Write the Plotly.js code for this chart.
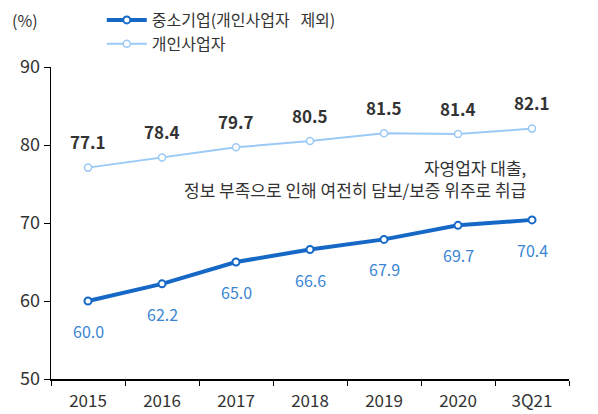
<!DOCTYPE html>
<html><head><meta charset="utf-8">
<script src="https://cdn.plot.ly/plotly-3.0.1.min.js"></script>
<style>body{margin:0;background:#fff}#c{width:598px;height:414px}</style>
</head><body><div id="c"></div>
<script>
const categories = ['2015','2016','2017','2018','2019','2020','3Q21'];
const smeValues = [60.0, 62.2, 65.0, 66.6, 67.9, 69.7, 70.4];
const soleValues = [77.1, 78.4, 79.7, 80.5, 81.5, 81.4, 82.1];
const smeName = '중소기업(개인사업자   제외)';
const soleName = '개인사업자';
const yTicks = [50, 60, 70, 80, 90];

const font = "'Noto Sans CJK KR', 'Noto Sans', sans-serif";
const darkBlue = '#1668c6';
const lightBlue = '#9ccaf6';

const traces = [
  {x: categories, y: smeValues, name: smeName, type: 'scatter', mode: 'lines+markers',
   line: {color: darkBlue, width: 4}, marker: {symbol: 'circle', size: 7, color: '#fff', line: {color: darkBlue, width: 2}}},
  {x: categories, y: soleValues, name: soleName, type: 'scatter', mode: 'lines+markers',
   line: {color: lightBlue, width: 2}, marker: {symbol: 'circle', size: 7, color: '#fff', line: {color: lightBlue, width: 1.5}}}
];

const annotations = [];
categories.forEach((c, i) => {
  annotations.push({x: i, y: soleValues[i], text: soleValues[i].toFixed(1), showarrow: false, yshift: 26,
    font: {family: font, size: 17, color: '#333', weight: 600}});
  annotations.push({x: i, y: smeValues[i], text: smeValues[i].toFixed(1), showarrow: false, yshift: -30,
    font: {family: font, size: 16, color: '#3b86d4'}});
});
annotations.push({xref: 'paper', yref: 'paper', x: -0.08, y: 1.15, xanchor: 'left', yanchor: 'middle',
  text: '(%)', showarrow: false, font: {family: font, size: 16, color: '#333'}});
annotations.push({xref: 'paper', yref: 'paper', x: 0.92, y: 0.644, xanchor: 'right', yanchor: 'middle', align: 'right',
  text: '자영업자 대출,<br>정보 부족으로 인해 여전히 담보/보증 위주로 취급', showarrow: false,
  font: {family: font, size: 17, color: '#333'}});

const layout = {
  width: 598, height: 414,
  margin: {l: 51, r: 29, t: 67, b: 35, autoexpand: false},
  paper_bgcolor: '#fff', plot_bgcolor: '#fff',
  font: {family: font, size: 16, color: '#333'},
  showlegend: true,
  legend: {x: 0.098, y: 1.205, xanchor: 'left', yanchor: 'top', bgcolor: 'rgba(0,0,0,0)',
    font: {family: font, size: 16, color: '#333'}, itemwidth: 40},
  xaxis: {type: 'category', range: [-0.5, 6.5], showgrid: false, zeroline: false,
    showline: true, linecolor: '#000', linewidth: 1.5, ticks: 'outside', ticklen: 5, tickcolor: '#000',
    tickson: 'boundaries', tickangle: 0, ticklabelstandoff: 6, tickfont: {family: font, size: 17, color: '#333'}, fixedrange: true},
  yaxis: {range: [50, 90], tickvals: yTicks, showgrid: false, zeroline: false,
    showline: true, linecolor: '#000', linewidth: 1.5, ticks: 'outside', ticklen: 6, tickcolor: '#000',
    tickfont: {family: font, size: 18, color: '#333'}, fixedrange: true},
  annotations: annotations
};

Plotly.newPlot('c', traces, layout, {displayModeBar: false, staticPlot: true});
</script></body></html>
